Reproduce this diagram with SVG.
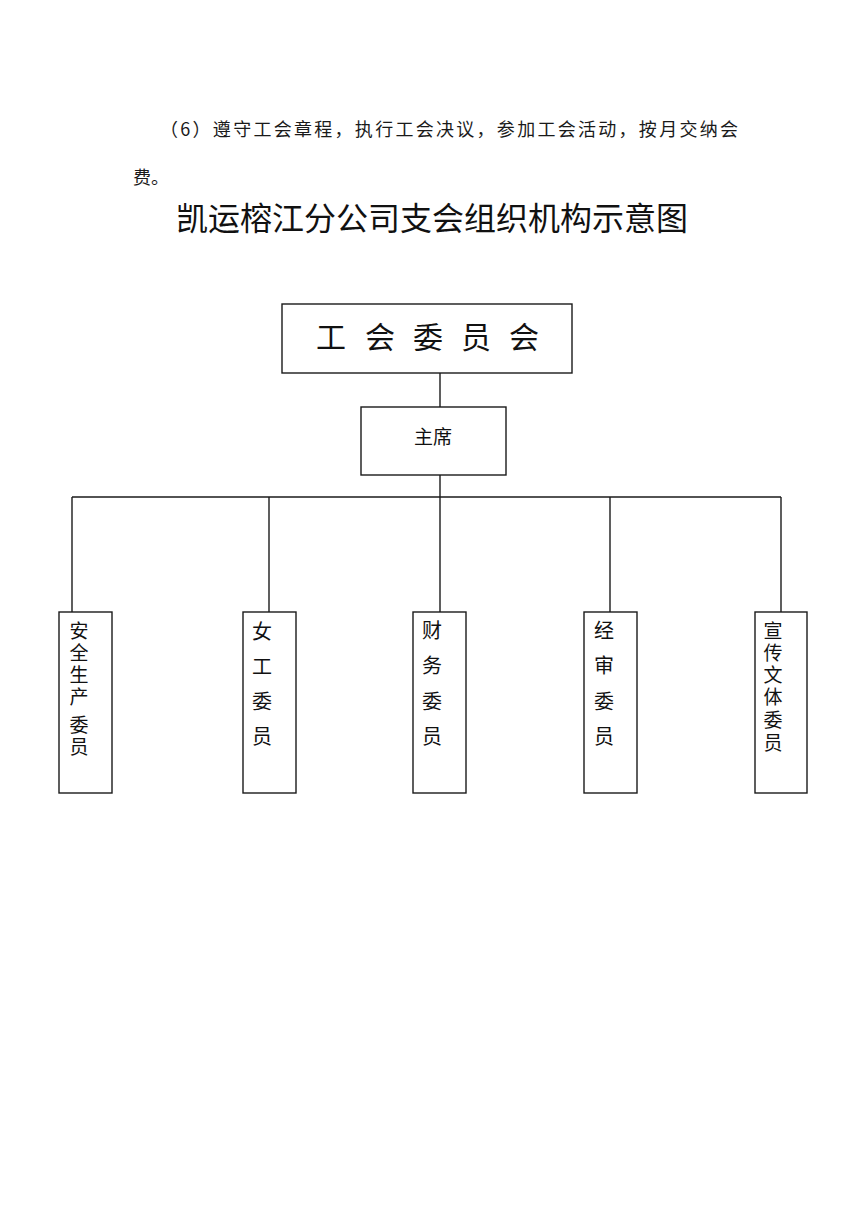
<svg xmlns="http://www.w3.org/2000/svg" width="868" height="1228" viewBox="0 0 868 1228">
<style>
.body{font-family:"Noto Sans CJK SC","Liberation Serif",sans-serif;font-size:18px;fill:#1a1a1a}
.title{font-family:"Noto Sans CJK SC",sans-serif;font-size:32px;fill:#111}
.box{fill:#fff;stroke:#1a1a1a;stroke-width:1.4}
.lbl{font-family:"Noto Sans CJK SC",sans-serif;font-size:20px;fill:#111;text-anchor:middle}
.lbl6{font-family:"Noto Sans CJK SC",sans-serif;font-size:19px;fill:#111;text-anchor:middle}
.big{font-family:"Noto Sans CJK SC",sans-serif;font-size:30px;fill:#111;text-anchor:middle}
.conn line{stroke:#1a1a1a;stroke-width:1.4}
</style>
<rect width="868" height="1228" fill="#fff"/>
<text class="body" x="160" y="136" textLength="578" lengthAdjust="spacing">（6）遵守工会章程，执行工会决议，参加工会活动，按月交纳会</text>
<text class="body" x="133" y="184">费。</text>
<text class="title" x="176" y="230">凯运榕江分公司支会组织机构示意图</text>
<g id="connectors" class="conn">
<line x1="440" y1="373" x2="440" y2="407"/>
<line x1="440" y1="475" x2="440" y2="612"/>
<line x1="72" y1="497" x2="781" y2="497"/>
<line x1="72" y1="497" x2="72" y2="612"/>
<line x1="269" y1="497" x2="269" y2="612"/>
<line x1="610" y1="497" x2="610" y2="612"/>
<line x1="781" y1="497" x2="781" y2="612"/>
</g>
<g id="committee">
<rect class="box" x="282" y="304" width="290" height="69"/>
<text class="big" y="348"><tspan x="331">工</tspan><tspan x="380">会</tspan><tspan x="428">委</tspan><tspan x="476">员</tspan><tspan x="524">会</tspan></text>
</g>
<g id="chairman">
<rect class="box" x="361" y="407" width="145" height="68"/>
<text class="lbl" x="433" y="444" style="font-size:19px">主席</text>
</g>
<g id="safety">
<rect class="box" x="59" y="612" width="53" height="181"/>
<text class="lbl6" x="79" y="638">安</text>
<text class="lbl6" x="79" y="660">全</text>
<text class="lbl6" x="79" y="682">生</text>
<text class="lbl6" x="79" y="704">产</text>
<text class="lbl6" x="79" y="732">委</text>
<text class="lbl6" x="79" y="754">员</text>
</g>
<g id="women">
<rect class="box" x="243" y="612" width="53" height="181"/>
<text class="lbl"><tspan x="262" y="639">女</tspan><tspan x="262" y="674">工</tspan><tspan x="262" y="709">委</tspan><tspan x="262" y="744">员</tspan></text>
</g>
<g id="finance">
<rect class="box" x="413" y="612" width="53" height="181"/>
<text class="lbl"><tspan x="432" y="638">财</tspan><tspan x="432" y="673">务</tspan><tspan x="432" y="709">委</tspan><tspan x="432" y="744">员</tspan></text>
</g>
<g id="audit">
<rect class="box" x="584" y="612" width="53" height="181"/>
<text class="lbl"><tspan x="604" y="638">经</tspan><tspan x="604" y="673">审</tspan><tspan x="604" y="709">委</tspan><tspan x="604" y="744">员</tspan></text>
</g>
<g id="publicity">
<rect class="box" x="755" y="612" width="52" height="181"/>
<text class="lbl6" x="773" y="638">宣</text>
<text class="lbl6" x="773" y="660">传</text>
<text class="lbl6" x="773" y="682">文</text>
<text class="lbl6" x="773" y="704">体</text>
<text class="lbl6" x="773" y="727">委</text>
<text class="lbl6" x="773" y="750">员</text>
</g>
</svg>
